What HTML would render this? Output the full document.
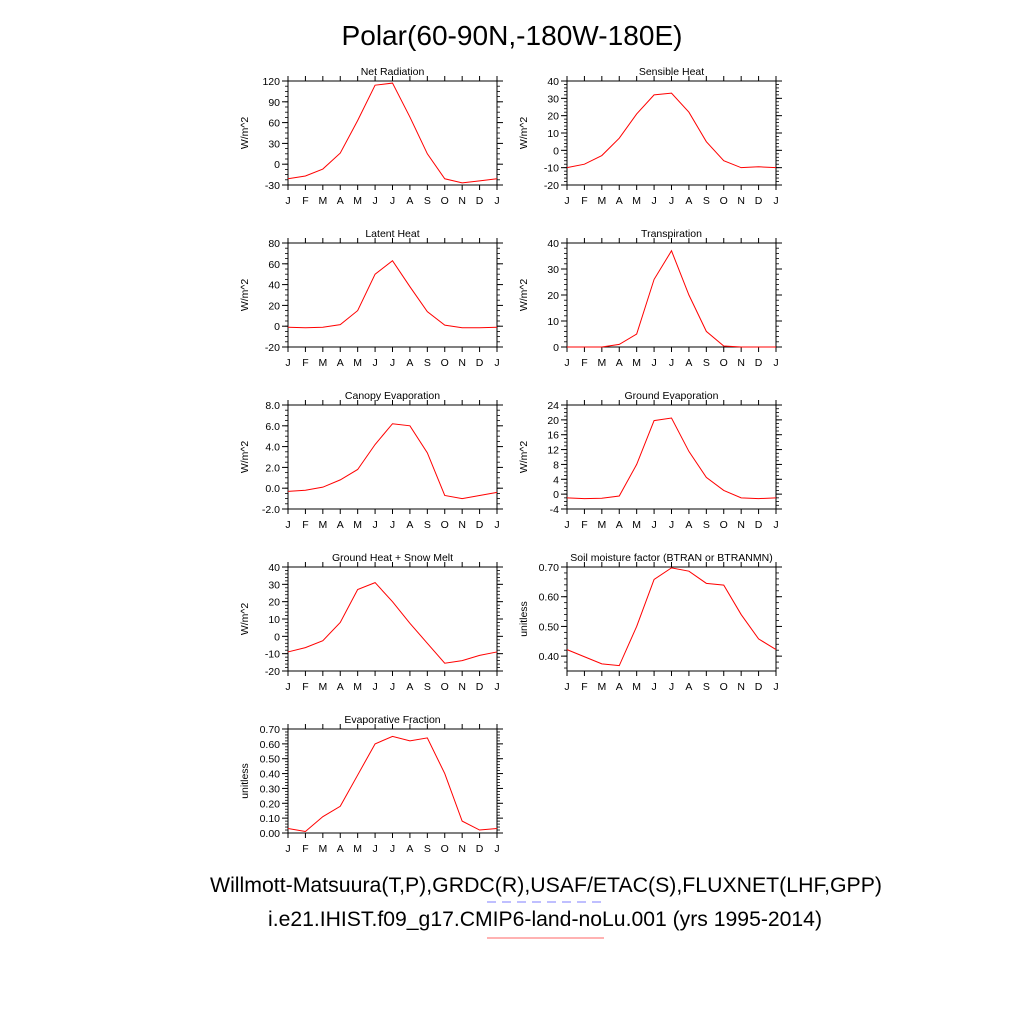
<!DOCTYPE html>
<html><head><meta charset="utf-8"><style>
html,body{margin:0;padding:0;background:#fff;}
svg{display:block;font-family:"Liberation Sans",sans-serif;}
</style></head><body>
<svg id="chart" width="1024" height="1024" viewBox="0 0 1024 1024" xmlns="http://www.w3.org/2000/svg">
<rect width="1024" height="1024" fill="#fff"/>
<text x="512" y="45" font-size="28" text-anchor="middle" textLength="341" lengthAdjust="spacingAndGlyphs">Polar(60-90N,-180W-180E)</text>
<text x="546" y="892" font-size="21" text-anchor="middle" textLength="672" lengthAdjust="spacingAndGlyphs">Willmott-Matsuura(T,P),GRDC(R),USAF/ETAC(S),FLUXNET(LHF,GPP)</text>
<line x1="487" y1="902" x2="604" y2="902" stroke="#9999ff" stroke-width="1.2" stroke-dasharray="9,6"/>
<text x="545" y="926" font-size="21" text-anchor="middle" textLength="554" lengthAdjust="spacingAndGlyphs">i.e21.IHIST.f09_g17.CMIP6-land-noLu.001 (yrs 1995-2014)</text>
<line x1="487" y1="938" x2="604" y2="938" stroke="#ff9999" stroke-width="1.5"/>
</svg>
<script>
const months = ["J","F","M","A","M","J","J","A","S","O","N","D","J"];
const netRadiation = [-21,-17,-7,16,63,114,117,68,15,-21,-27,-24,-21];
const sensibleHeat = [-10,-8,-3,7,21,32,33,22,5,-6,-10,-9.5,-10];
const latentHeat = [-1,-1.5,-1,1.5,15,50,63,38,14,1,-1.5,-1.5,-1];
const transpiration = [0,0,0,1,5,26,37,20,6,0.4,0,0,0];
const canopyEvap = [-0.3,-0.2,0.1,0.8,1.8,4.2,6.2,6.0,3.4,-0.7,-1.0,-0.7,-0.4];
const groundEvap = [-1,-1.2,-1.1,-0.5,8,19.8,20.5,11.5,4.5,1,-1,-1.2,-1];
const groundHeat = [-9,-6.5,-2.5,8,27,31,20,7.5,-4,-15.5,-14,-11,-9];
const soilMoisture = [0.422,0.398,0.374,0.368,0.50,0.658,0.697,0.686,0.645,0.639,0.54,0.458,0.422];
const evapFraction = [0.03,0.01,0.11,0.18,0.39,0.60,0.65,0.62,0.64,0.40,0.08,0.02,0.03];

const netRadTicks = ["-30","0","30","60","90","120"];
const sensTicks = ["-20","-10","0","10","20","30","40"];
const latTicks = ["-20","0","20","40","60","80"];
const transTicks = ["0","10","20","30","40"];
const canTicks = ["-2.0","0.0","2.0","4.0","6.0","8.0"];
const gevTicks = ["-4","0","4","8","12","16","20","24"];
const ghTicks = ["-20","-10","0","10","20","30","40"];
const soilTicks = ["0.40","0.50","0.60","0.70"];
const efTicks = ["0.00","0.10","0.20","0.30","0.40","0.50","0.60","0.70"];

const NS="http://www.w3.org/2000/svg";
const svg=document.getElementById('chart');
function mk(tag,attrs,parent){const e=document.createElementNS(NS,tag);for(const k in attrs)e.setAttribute(k,attrs[k]);(parent||svg).appendChild(e);return e;}

function panel(key,title,vals,ticks,ymin,ymax,minorStep,x0,y0,ylabel){
  const W=209,H=104;
  const g=mk('g',{});
  
  
  const xs=i=>x0+i*W/12;
  const ys=v=>y0+H-(v-ymin)/(ymax-ymin)*H;
  const t=mk('text',{x:x0+W/2,y:y0-6,'font-size':10.5,'text-anchor':'middle'},g);
  t.textContent=title;
  
  
  const f=mk('rect',{x:x0,y:y0,width:W,height:H,fill:'none',stroke:'#000','stroke-width':1},g);
  
  
  // x ticks
  for(let i=0;i<months.length;i++){
    const x=xs(i);
    mk('line',{x1:x,y1:y0+H,x2:x,y2:y0+H+5,stroke:'#000','stroke-width':1},g);
    mk('line',{x1:x,y1:y0,x2:x,y2:y0-5,stroke:'#000','stroke-width':1},g);
    const l=mk('text',{x:x,y:y0+H+19,'font-size':10.5,'text-anchor':'middle'},g);
    l.textContent=months[i];
    
    
  }
  // minor y ticks
  for(let v=Math.ceil(ymin/minorStep)*minorStep; v<=ymax+1e-9; v+=minorStep){
    const y=ys(v);
    mk('line',{x1:x0,y1:y,x2:x0-3,y2:y,stroke:'#000','stroke-width':0.8},g);
    mk('line',{x1:x0+W,y1:y,x2:x0+W+3,y2:y,stroke:'#000','stroke-width':0.8},g);
  }
  for(const tk of ticks){
    const v=parseFloat(tk);const y=ys(v);
    mk('line',{x1:x0,y1:y,x2:x0-6,y2:y,stroke:'#000','stroke-width':1},g);
    mk('line',{x1:x0+W,y1:y,x2:x0+W+6,y2:y,stroke:'#000','stroke-width':1},g);
    const l=mk('text',{x:x0-8,y:y+4,'font-size':10.5,'text-anchor':'end'},g);
    l.textContent=tk;
    
    
  }
  const yl=mk('text',{x:0,y:0,'font-size':10.5,'text-anchor':'middle',transform:`translate(${x0-40},${y0+H/2}) rotate(-90)`},g);
  yl.textContent=ylabel;
  
  
  const p=mk('polyline',{points:vals.map((v,i)=>xs(i)+','+ys(v)).join(' '),fill:'none',stroke:'#ff0000','stroke-width':1},g);
  
  
}
const L=288,R=567;
panel('net-radiation','Net Radiation',netRadiation,netRadTicks,-30,120,7.5,L,81,'W/m^2');
panel('sensible-heat','Sensible Heat',sensibleHeat,sensTicks,-20,40,2,R,81,'W/m^2');
panel('latent-heat','Latent Heat',latentHeat,latTicks,-20,80,5,L,243,'W/m^2');
panel('transpiration','Transpiration',transpiration,transTicks,0,40,2,R,243,'W/m^2');
panel('canopy-evaporation','Canopy Evaporation',canopyEvap,canTicks,-2,8,0.5,L,405,'W/m^2');
panel('ground-evaporation','Ground Evaporation',groundEvap,gevTicks,-4,24,1,R,405,'W/m^2');
panel('ground-heat','Ground Heat + Snow Melt',groundHeat,ghTicks,-20,40,2,L,567,'W/m^2');
panel('soil-moisture','Soil moisture factor (BTRAN or BTRANMN)',soilMoisture,soilTicks,0.35,0.70,0.02,R,567,'unitless');
panel('evaporative-fraction','Evaporative Fraction',evapFraction,efTicks,0,0.7,0.02,L,729,'unitless');
</script>
</body></html>
